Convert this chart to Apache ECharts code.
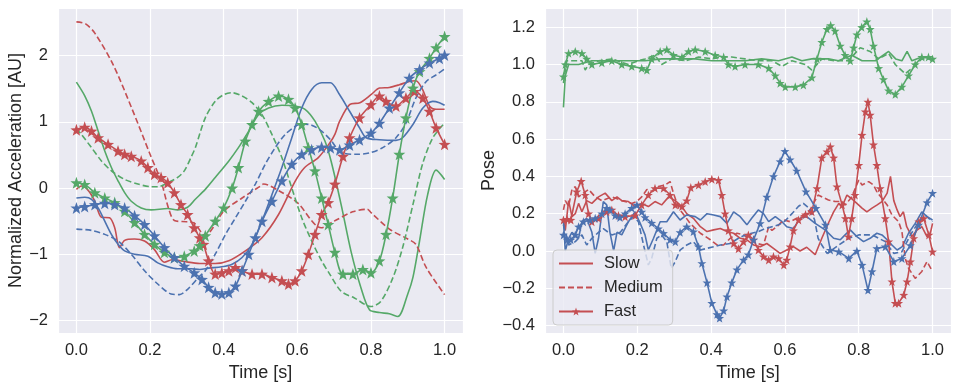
<!DOCTYPE html>
<html><head><meta charset="utf-8">
<script src="https://cdn.jsdelivr.net/npm/echarts@6/dist/echarts.min.js"></script>
<style>html,body{margin:0;padding:0;background:#fff}#c{width:957px;height:387px}</style>
</head><body><div id="c"></div>
<script>
// ---------- Left panel: Normalized Acceleration ----------
const leftRedSlow = [[0,-0.02],[0.0135,0.03],[0.032,-0.035],[0.05,-0.2],[0.068,-0.44],[0.09,-0.45],[0.104,-0.6],[0.117,-0.9],[0.131,-0.79],[0.158,-0.77],[0.185,-0.8],[0.212,-0.93],[0.239,-1.12],[0.262,-1.08],[0.293,-1.11],[0.335,-1.14],[0.377,-1.14],[0.414,-1.1],[0.459,-0.95],[0.504,-0.75],[0.549,-0.4],[0.594,0.1],[0.62,0.31],[0.657,0.46],[0.688,0.68],[0.702,0.81],[0.715,1.01],[0.742,1.26],[0.77,1.29],[0.8,1.41],[0.823,1.51],[0.85,1.52],[0.877,1.56],[0.904,1.61],[0.922,1.62],[0.94,1.49],[0.959,1.24],[0.977,1.19],[1.0,1.19]];
const leftRedMedium = [[0,2.51],[0.025,2.48],[0.05,2.34],[0.1,1.86],[0.15,1.21],[0.2,0.51],[0.23,0.1],[0.25,-0.3],[0.266,-0.49],[0.3,-0.51],[0.32,-0.53],[0.35,-0.72],[0.377,-0.55],[0.4,-0.35],[0.45,-0.15],[0.5,0.03],[0.508,0.06],[0.55,-0.04],[0.6,-0.22],[0.665,-0.6],[0.7,-0.5],[0.75,-0.36],[0.79,-0.32],[0.8,-0.37],[0.85,-0.62],[0.9,-0.77],[0.922,-0.85],[0.95,-1.2],[1.0,-1.61]];
const leftRedFast = [[0,0.88],[0.0225,0.92],[0.041,0.86],[0.059,0.76],[0.086,0.66],[0.113,0.56],[0.131,0.51],[0.149,0.48],[0.176,0.41],[0.194,0.31],[0.212,0.21],[0.23,0.16],[0.248,0.08],[0.266,-0.07],[0.284,-0.25],[0.302,-0.4],[0.32,-0.6],[0.335,-0.75],[0.345,-0.85],[0.359,-1.1],[0.377,-1.3],[0.395,-1.28],[0.414,-1.25],[0.432,-1.2],[0.45,-1.25],[0.477,-1.3],[0.504,-1.3],[0.531,-1.35],[0.558,-1.4],[0.576,-1.45],[0.594,-1.4],[0.612,-1.25],[0.63,-1.0],[0.648,-0.7],[0.666,-0.4],[0.684,-0.22],[0.702,0.06],[0.724,0.48],[0.742,0.76],[0.769,1.06],[0.8,1.26],[0.823,1.39],[0.841,1.31],[0.868,1.24],[0.895,1.36],[0.918,1.46],[0.941,1.36],[0.959,1.16],[0.977,0.91],[1.0,0.66]];
const leftGreenSlow = [[0,1.6],[0.023,1.39],[0.041,1.16],[0.059,0.86],[0.077,0.56],[0.095,0.31],[0.113,0.11],[0.131,-0.07],[0.149,-0.2],[0.176,-0.3],[0.203,-0.33],[0.248,-0.31],[0.275,-0.33],[0.302,-0.29],[0.323,-0.17],[0.35,-0.02],[0.377,0.16],[0.414,0.41],[0.44,0.61],[0.468,0.86],[0.495,1.11],[0.522,1.21],[0.558,1.25],[0.594,1.24],[0.621,1.19],[0.648,1.01],[0.675,0.71],[0.692,0.4],[0.719,-0.25],[0.746,-0.96],[0.773,-1.51],[0.796,-1.84],[0.823,-1.88],[0.85,-1.9],[0.873,-1.94],[0.9,-1.6],[0.914,-1.35],[0.932,-0.8],[0.954,-0.1],[0.977,0.27],[1.0,0.13]];
const leftGreenMedium = [[0,0.9],[0.0135,0.81],[0.041,0.61],[0.068,0.41],[0.095,0.26],[0.131,0.13],[0.167,0.06],[0.203,0.02],[0.221,0.02],[0.248,0.08],[0.275,0.16],[0.293,0.26],[0.311,0.46],[0.323,0.61],[0.35,1.06],[0.377,1.31],[0.4,1.41],[0.423,1.44],[0.45,1.39],[0.477,1.29],[0.504,1.11],[0.531,0.81],[0.558,0.46],[0.585,0.0],[0.612,-0.45],[0.639,-0.8],[0.666,-1.1],[0.688,-1.3],[0.719,-1.56],[0.755,-1.66],[0.8,-1.79],[0.827,-1.71],[0.86,-1.35],[0.886,-0.9],[0.914,-0.25],[0.94,0.36],[0.968,0.76],[1.0,0.98]];
const leftGreenFast = [[0,0.08],[0.0225,0.055],[0.05,-0.07],[0.077,-0.15],[0.104,-0.22],[0.131,-0.35],[0.158,-0.52],[0.185,-0.7],[0.212,-0.85],[0.239,-0.97],[0.266,-1.05],[0.293,-1.03],[0.32,-0.95],[0.335,-0.87],[0.35,-0.72],[0.377,-0.5],[0.4,-0.3],[0.423,0.0],[0.44,0.31],[0.459,0.71],[0.477,0.96],[0.495,1.16],[0.522,1.31],[0.549,1.39],[0.576,1.34],[0.594,1.21],[0.612,0.96],[0.63,0.61],[0.648,0.26],[0.666,-0.15],[0.684,-0.55],[0.702,-0.97],[0.724,-1.3],[0.751,-1.3],[0.778,-1.23],[0.8,-1.28],[0.823,-1.1],[0.841,-0.7],[0.859,-0.15],[0.877,0.51],[0.895,1.06],[0.914,1.51],[0.932,1.76],[0.959,1.96],[0.977,2.12],[1.0,2.29]];
const leftBlueSlow = [[0,-0.15],[0.023,-0.14],[0.041,-0.17],[0.059,-0.3],[0.077,-0.5],[0.095,-0.7],[0.113,-0.85],[0.131,-0.95],[0.158,-1.0],[0.194,-1.03],[0.221,-1.13],[0.248,-1.19],[0.275,-1.22],[0.311,-1.22],[0.335,-1.23],[0.359,-1.21],[0.395,-1.19],[0.423,-1.15],[0.45,-1.05],[0.477,-0.85],[0.504,-0.5],[0.531,-0.1],[0.558,0.31],[0.585,0.76],[0.612,1.21],[0.639,1.49],[0.666,1.59],[0.69,1.59],[0.715,1.41],[0.742,1.16],[0.769,0.91],[0.787,0.76],[0.823,0.73],[0.868,0.72],[0.886,0.76],[0.914,0.96],[0.941,1.21],[0.968,1.31],[0.986,1.29],[1.0,1.25]];
const leftBlueMedium = [[0,-0.62],[0.041,-0.64],[0.077,-0.7],[0.113,-0.8],[0.149,-1.0],[0.185,-1.25],[0.221,-1.45],[0.257,-1.6],[0.28,-1.61],[0.302,-1.53],[0.335,-1.33],[0.35,-1.25],[0.377,-1.0],[0.405,-0.7],[0.432,-0.45],[0.459,-0.2],[0.486,0.06],[0.513,0.36],[0.54,0.61],[0.567,0.81],[0.594,0.93],[0.612,0.97],[0.639,0.95],[0.666,0.86],[0.693,0.71],[0.706,0.61],[0.724,0.53],[0.76,0.51],[0.796,0.53],[0.832,0.61],[0.868,0.76],[0.895,0.98],[0.922,1.36],[0.95,1.61],[0.977,1.71],[1.0,1.8]];
const leftBlueFast = [[0,-0.3],[0.0225,-0.28],[0.05,-0.25],[0.077,-0.23],[0.104,-0.25],[0.131,-0.3],[0.158,-0.42],[0.185,-0.55],[0.212,-0.72],[0.239,-0.9],[0.266,-1.05],[0.293,-1.18],[0.32,-1.28],[0.341,-1.38],[0.359,-1.5],[0.377,-1.58],[0.395,-1.6],[0.414,-1.58],[0.432,-1.48],[0.45,-1.25],[0.468,-1.0],[0.486,-0.75],[0.504,-0.5],[0.531,-0.2],[0.558,0.11],[0.585,0.36],[0.612,0.51],[0.639,0.58],[0.666,0.62],[0.69,0.61],[0.715,0.58],[0.742,0.65],[0.769,0.73],[0.8,0.83],[0.823,0.98],[0.85,1.21],[0.877,1.44],[0.904,1.66],[0.932,1.79],[0.959,1.89],[0.986,1.96],[1.0,2.01]];

// ---------- Right panel: Pose ----------
const rightRedSlow = [[0,0.166],[0.005,0.11],[0.014,0.27],[0.023,0.184],[0.032,0.2],[0.041,0.255],[0.05,0.21],[0.063,0.27],[0.077,0.255],[0.095,0.29],[0.113,0.31],[0.131,0.27],[0.145,0.29],[0.158,0.27],[0.176,0.265],[0.194,0.238],[0.212,0.255],[0.23,0.238],[0.248,0.265],[0.266,0.247],[0.285,0.29],[0.303,0.27],[0.321,0.238],[0.334,0.2],[0.352,0.175],[0.371,0.13],[0.389,0.104],[0.407,0.113],[0.425,0.12],[0.443,0.104],[0.461,0.095],[0.479,0.068],[0.497,0.06],[0.515,0.032],[0.533,0.023],[0.551,0.04],[0.569,0.014],[0.587,-0.013],[0.605,0.005],[0.623,0.023],[0.641,0.0],[0.659,0.02],[0.682,-0.02],[0.7,0.068],[0.718,0.15],[0.732,0.21],[0.746,0.255],[0.755,0.238],[0.768,0.3],[0.781,0.28],[0.795,0.255],[0.809,0.23],[0.822,0.21],[0.836,0.23],[0.85,0.247],[0.863,0.265],[0.877,0.31],[0.886,0.4],[0.895,0.27],[0.904,0.22],[0.912,0.184],[0.921,0.21],[0.93,0.13],[0.944,0.077],[0.957,0.11],[0.971,0.13],[0.985,0.077],[0.994,0.095],[1.0,0.148]];
const rightRedMedium = [[0,0.22],[0.005,0.27],[0.014,0.24],[0.023,0.33],[0.032,0.345],[0.041,0.29],[0.054,0.31],[0.068,0.33],[0.086,0.29],[0.104,0.27],[0.131,0.29],[0.158,0.27],[0.185,0.255],[0.199,0.265],[0.212,0.29],[0.226,0.33],[0.239,0.32],[0.257,0.345],[0.276,0.354],[0.289,0.372],[0.298,0.31],[0.312,0.23],[0.33,0.184],[0.343,0.148],[0.371,0.095],[0.398,0.06],[0.416,0.032],[0.434,0.032],[0.452,0.068],[0.47,0.095],[0.488,0.086],[0.506,0.06],[0.524,0.04],[0.542,0.032],[0.556,0.13],[0.565,0.11],[0.578,0.13],[0.597,0.166],[0.614,0.157],[0.632,0.175],[0.65,0.193],[0.668,0.22],[0.69,0.3],[0.718,0.273],[0.736,0.265],[0.755,0.265],[0.764,0.247],[0.781,0.29],[0.8,0.38],[0.809,0.354],[0.827,0.372],[0.84,0.354],[0.849,0.318],[0.863,0.282],[0.877,0.247],[0.89,0.193],[0.908,0.157],[0.917,0.104],[0.926,-0.04],[0.935,-0.093],[0.953,-0.147],[0.971,-0.11],[0.985,-0.057],[1.0,-0.11]];
const rightRedFast = [[0,0.166],[0.01,0.17],[0.02,0.166],[0.036,0.318],[0.048,0.375],[0.059,0.3],[0.068,0.2],[0.077,0.157],[0.095,0.175],[0.117,0.21],[0.131,0.22],[0.149,0.19],[0.167,0.184],[0.194,0.19],[0.212,0.247],[0.23,0.3],[0.248,0.336],[0.271,0.336],[0.289,0.3],[0.303,0.247],[0.321,0.238],[0.334,0.27],[0.345,0.34],[0.366,0.354],[0.384,0.372],[0.402,0.385],[0.42,0.38],[0.429,0.3],[0.438,0.2],[0.447,0.11],[0.461,0.04],[0.474,0.012],[0.488,0.05],[0.501,0.086],[0.515,0.06],[0.528,0.005],[0.542,-0.03],[0.556,-0.048],[0.569,-0.03],[0.583,-0.04],[0.597,-0.075],[0.605,-0.048],[0.614,0.023],[0.623,0.11],[0.637,0.166],[0.656,0.195],[0.673,0.21],[0.687,0.336],[0.7,0.5],[0.714,0.533],[0.723,0.56],[0.732,0.5],[0.741,0.345],[0.755,0.247],[0.764,0.175],[0.772,0.077],[0.781,0.175],[0.79,0.3],[0.8,0.46],[0.809,0.622],[0.818,0.747],[0.825,0.8],[0.831,0.73],[0.84,0.57],[0.849,0.46],[0.858,0.336],[0.872,0.175],[0.881,0.05],[0.89,-0.164],[0.899,-0.28],[0.908,-0.28],[0.922,-0.236],[0.931,-0.164],[0.94,-0.057],[0.949,0.068],[0.963,0.157],[0.976,0.175],[0.99,0.086],[1.0,-0.004]];
const rightGreenSlow = [[0,0.77],[0.005,0.94],[0.014,1.0],[0.041,1.0],[0.077,1.02],[0.131,1.02],[0.176,1.02],[0.221,1.02],[0.266,1.03],[0.312,1.03],[0.357,1.03],[0.402,1.02],[0.447,1.02],[0.492,1.02],[0.537,1.03],[0.583,1.02],[0.619,1.04],[0.646,1.02],[0.673,1.03],[0.718,1.03],[0.745,1.02],[0.781,1.05],[0.809,1.02],[0.845,1.02],[0.881,1.07],[0.9,1.03],[0.917,1.02],[0.931,1.07],[0.944,1.02],[0.971,1.04],[1.0,1.03]];
const rightGreenMedium = [[0,0.9],[0.009,1.02],[0.032,1.02],[0.05,1.02],[0.059,0.97],[0.068,1.0],[0.095,1.02],[0.131,1.03],[0.176,1.0],[0.203,1.02],[0.221,1.03],[0.248,1.05],[0.266,1.0],[0.294,1.03],[0.33,1.02],[0.366,1.04],[0.402,1.03],[0.429,1.04],[0.456,1.04],[0.492,1.03],[0.528,1.02],[0.565,1.02],[0.592,0.99],[0.619,1.02],[0.655,1.0],[0.673,0.97],[0.7,1.03],[0.736,1.02],[0.772,1.02],[0.804,1.09],[0.831,1.07],[0.854,1.03],[0.881,1.06],[0.899,1.0],[0.926,0.95],[0.944,0.98],[0.971,1.03],[1.0,1.03]];
const rightGreenFast = [[0,0.935],[0.005,1.0],[0.014,1.06],[0.032,1.07],[0.05,1.06],[0.063,1.03],[0.077,1.0],[0.104,1.01],[0.131,1.02],[0.158,1.0],[0.185,0.99],[0.212,0.98],[0.226,0.97],[0.239,1.03],[0.262,1.07],[0.28,1.08],[0.298,1.05],[0.321,1.04],[0.339,1.07],[0.357,1.08],[0.384,1.07],[0.411,1.05],[0.434,1.04],[0.447,1.0],[0.465,0.99],[0.492,1.0],[0.528,1.0],[0.556,0.98],[0.574,0.94],[0.587,0.9],[0.601,0.88],[0.628,0.88],[0.65,0.89],[0.673,0.93],[0.687,1.03],[0.7,1.12],[0.714,1.19],[0.724,1.21],[0.736,1.18],[0.75,1.1],[0.763,1.05],[0.777,1.02],[0.786,1.09],[0.795,1.16],[0.808,1.2],[0.822,1.23],[0.831,1.19],[0.84,1.1],[0.854,0.98],[0.867,0.92],[0.881,0.86],[0.899,0.84],[0.917,0.88],[0.935,0.94],[0.953,1.0],[0.971,1.04],[0.989,1.04],[1.0,1.03]];
const rightBlueSlow = [[0,0.157],[0.005,0.0],[0.014,0.068],[0.023,0.1],[0.041,0.068],[0.05,0.157],[0.063,0.175],[0.077,0.1],[0.086,-0.013],[0.095,0.068],[0.108,0.265],[0.117,0.247],[0.126,0.1],[0.136,0.0],[0.145,0.1],[0.158,0.086],[0.176,0.157],[0.194,0.21],[0.208,0.148],[0.221,0.086],[0.23,0.005],[0.244,0.068],[0.262,0.157],[0.28,0.157],[0.298,0.21],[0.316,0.166],[0.334,0.193],[0.357,0.184],[0.371,0.166],[0.389,0.2],[0.407,0.193],[0.425,0.184],[0.443,0.148],[0.461,0.21],[0.479,0.184],[0.497,0.14],[0.51,0.175],[0.528,0.22],[0.542,0.2],[0.556,0.157],[0.574,0.184],[0.592,0.157],[0.605,0.13],[0.623,0.12],[0.641,0.175],[0.659,0.184],[0.682,0.148],[0.709,0.113],[0.732,0.068],[0.75,0.06],[0.763,0.086],[0.777,0.113],[0.795,0.077],[0.813,0.05],[0.831,0.068],[0.849,0.095],[0.863,0.086],[0.877,0.06],[0.89,0.032],[0.904,0.005],[0.918,0.023],[0.935,0.095],[0.953,0.148],[0.971,0.21],[0.985,0.184],[1.0,0.166]];
const rightBlueMedium = [[0,0.14],[0.014,0.032],[0.032,0.05],[0.05,0.086],[0.063,0.032],[0.077,0.068],[0.095,0.1],[0.108,0.12],[0.131,0.086],[0.154,0.1],[0.176,0.157],[0.19,0.184],[0.203,0.157],[0.217,0.032],[0.23,-0.075],[0.239,-0.04],[0.253,0.068],[0.266,0.086],[0.28,0.05],[0.292,-0.093],[0.303,-0.057],[0.316,0.005],[0.334,0.032],[0.352,0.05],[0.371,0.005],[0.389,0.014],[0.407,0.023],[0.425,0.032],[0.452,0.04],[0.474,0.068],[0.492,0.086],[0.51,0.095],[0.528,0.104],[0.547,0.12],[0.565,0.13],[0.583,0.14],[0.6,0.16],[0.619,0.2],[0.637,0.24],[0.65,0.255],[0.665,0.23],[0.68,0.17],[0.69,0.068],[0.7,0.032],[0.714,-0.013],[0.746,0.032],[0.773,0.068],[0.8,0.086],[0.836,0.086],[0.872,0.05],[0.895,-0.013],[0.917,-0.004],[0.94,0.086],[0.963,0.157],[0.98,0.193],[1.0,0.157]];
const rightBlueFast = [[0,0.086],[0.01,0.06],[0.02,0.06],[0.032,0.086],[0.041,0.13],[0.054,0.157],[0.072,0.166],[0.086,0.175],[0.104,0.2],[0.117,0.23],[0.126,0.22],[0.14,0.19],[0.153,0.18],[0.167,0.2],[0.185,0.23],[0.199,0.247],[0.212,0.21],[0.221,0.18],[0.239,0.15],[0.257,0.12],[0.271,0.095],[0.289,0.06],[0.303,0.05],[0.316,0.1],[0.334,0.13],[0.352,0.104],[0.366,0.023],[0.375,-0.066],[0.389,-0.17],[0.402,-0.28],[0.416,-0.34],[0.423,-0.36],[0.434,-0.32],[0.443,-0.245],[0.456,-0.17],[0.47,-0.1],[0.488,-0.048],[0.501,-0.02],[0.515,0.06],[0.533,0.148],[0.551,0.29],[0.569,0.4],[0.587,0.48],[0.6,0.535],[0.614,0.49],[0.632,0.43],[0.657,0.318],[0.684,0.23],[0.71,0.14],[0.723,0.005],[0.746,-0.004],[0.773,-0.04],[0.795,0.0],[0.809,-0.075],[0.825,-0.21],[0.836,-0.11],[0.849,0.014],[0.872,0.023],[0.895,-0.057],[0.917,-0.04],[0.94,0.03],[0.962,0.14],[0.985,0.26],[1.0,0.31]];

// ---------- Ticks / labels ----------
const timeTicks = [0, 0.2, 0.4, 0.6, 0.8, 1.0];
const leftYTicks = [-2, -1, 0, 1, 2];
const rightYTicks = [-0.4, -0.2, 0, 0.2, 0.4, 0.6, 0.8, 1.0, 1.2];
const speedNames = ['Slow', 'Medium', 'Fast'];

const COLORS = {r: '#C44E52', g: '#55A868', b: '#4C72B0'};
const FONT = '"Liberation Sans", Arial, sans-serif';
const TXT = '#262626';
const STAR = 'path://M0,-10L2.35,-3.24L9.51,-3.09L3.8,1.24L5.88,8.09L0,4.2L-5.88,8.09L-3.8,1.24L-9.51,-3.09L-2.35,-3.24Z';

function fmt(ticks, dec) {
  return function (v) {
    for (const t of ticks) if (Math.abs(v - t) < 1e-6) return t.toFixed(dec).replace('-', '\u2212');
    return '';
  };
}
function xAxis(gi) {
  return {
    type: 'value', gridIndex: gi, min: -0.05, max: 1.05, splitNumber: 5,
    axisLine: {show: false}, axisTick: {show: false},
    splitLine: {show: true, lineStyle: {color: '#ffffff', width: 1.2}},
    axisLabel: {formatter: fmt(timeTicks, 1), color: TXT, fontSize: 16.5, fontFamily: FONT, margin: 9, showMinLabel: false, showMaxLabel: false},
    name: 'Time [s]', nameLocation: 'middle', nameGap: 28,
    nameTextStyle: {color: TXT, fontSize: 18, fontFamily: FONT}
  };
}
function yAxis(gi, min, max, split, ticks, dec, name, gap) {
  return {
    type: 'value', gridIndex: gi, min: min, max: max, splitNumber: split,
    axisLine: {show: false}, axisTick: {show: false},
    splitLine: {show: true, lineStyle: {color: '#ffffff', width: 1.2}},
    axisLabel: {formatter: fmt(ticks, dec), color: TXT, fontSize: 16.5, fontFamily: FONT, margin: 10, showMinLabel: false, showMaxLabel: false},
    name: name, nameLocation: 'middle', nameGap: gap,
    nameTextStyle: {color: TXT, fontSize: 18, fontFamily: FONT}
  };
}

const series = [];
function add(name, data, color, kind, gi, smooth) {
  const fast = kind === 2;
  series.push({
    name: name, type: 'line', data: data, xAxisIndex: gi, yAxisIndex: gi,
    smooth: smooth, silent: true,
    showSymbol: fast, showAllSymbol: true,
    symbol: fast ? STAR : 'none', symbolSize: fast ? (gi === 0 ? 12 : 9) : 0,
    itemStyle: {color: color},
    lineStyle: {color: color, width: 1.6, type: kind === 1 ? [6, 3] : 'solid'},
    emphasis: {disabled: true}
  });
}
const leftSets = [[leftRedSlow, leftRedMedium, leftRedFast, COLORS.r],
                  [leftGreenSlow, leftGreenMedium, leftGreenFast, COLORS.g],
                  [leftBlueSlow, leftBlueMedium, leftBlueFast, COLORS.b]];
for (let k = 0; k < 3; k++) for (const s of leftSets) add('L' + k + s[3], s[k], s[3], k, 0, 0.3);
const rightSets = [[rightRedSlow, rightRedMedium, rightRedFast, COLORS.r],
                   [rightGreenSlow, rightGreenMedium, rightGreenFast, COLORS.g],
                   [rightBlueSlow, rightBlueMedium, rightBlueFast, COLORS.b]];
for (let k = 0; k < 3; k++) rightSets.forEach((s, i) => add(i === 0 ? speedNames[k] : 'R' + k + s[3], s[k], s[3], k, 1, false));

const chart = echarts.init(document.getElementById('c'), null, {renderer: 'canvas'});
chart.setOption({
  animation: false,
  backgroundColor: '#ffffff',
  grid: [
    {left: 58, top: 8, width: 405, height: 325, show: true, backgroundColor: '#EAEAF2', borderWidth: 0, containLabel: false},
    {left: 545, top: 8, width: 406, height: 325, show: true, backgroundColor: '#EAEAF2', borderWidth: 0, containLabel: false}
  ],
  xAxis: [xAxis(0), xAxis(1)],
  yAxis: [
    yAxis(0, -2.19, 2.72, 5, leftYTicks, 0, 'Normalized Acceleration [AU]', 30),
    yAxis(1, -0.44, 1.303, 8, rightYTicks, 1, 'Pose', 45)
  ],
  legend: {
    data: [
      {name: 'Slow', itemStyle: {opacity: 0, borderWidth: 0}},
      {name: 'Medium', itemStyle: {opacity: 0, borderWidth: 0}},
      {name: 'Fast'}
    ],
    orient: 'vertical', left: 553, top: 250,
    itemWidth: 34, itemHeight: 10, itemGap: 7,
    padding: [5, 10, 5, 5],
    backgroundColor: 'rgba(234,234,242,0.8)', borderColor: '#cccccc', borderWidth: 1, borderRadius: 4,
    textStyle: {color: TXT, fontSize: 16.5, fontFamily: FONT, padding: [0, 0, 0, 6]},
    selectedMode: false
  },
  series: series
});
</script>
</body></html>
